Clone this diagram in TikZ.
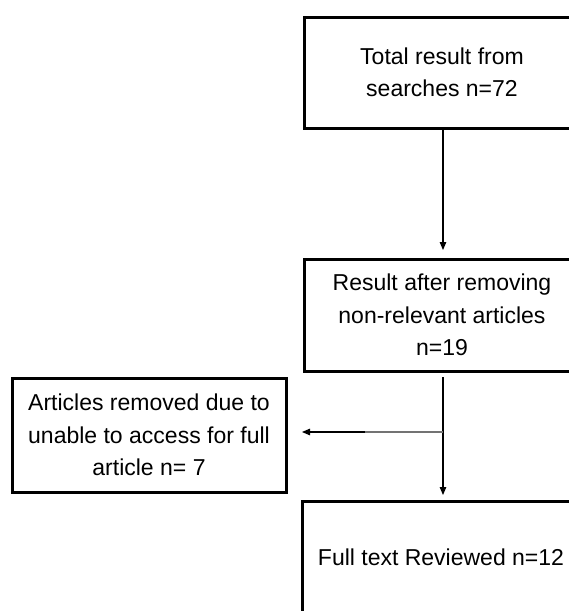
\documentclass[tikz,border=0pt]{standalone}
\usepackage{fontspec}
\setmainfont{Liberation Sans}
\usetikzlibrary{arrows.meta}
\begin{document}
\begin{tikzpicture}[x=1pt,y=-1pt,
  box/.style={draw, line width=3pt, minimum width=276pt, align=center, inner sep=0pt,
    font=\fontsize{23}{32.5}\selectfont},
  conn/.style={line width=1.1pt},
  tipped/.style={-{Triangle[length=8pt,width=6.5pt]}}]
\useasboundingbox (0,0) rectangle (569,611);
\clip (0,0) rectangle (569,611);
\node[box, minimum height=111pt] (b1) at (442,72.5) {Total result from\\searches n=72};
\node[box, minimum height=112pt] (b2) at (442,315) {Result after removing\\non-relevant articles\\n=19};
\node[box, minimum width=274pt, minimum height=114pt] (b4) at (149,435) {Articles removed due to\\unable to access for full\\article n= 7};
\node[box, minimum width=278pt, minimum height=112pt] (b3) at (441,557) {Full text Reviewed n=12};
\coordinate (t1) at (443,250);
\coordinate (s2) at (443,377);
\coordinate (t2) at (443,495);
\coordinate (j) at (443,432);
\coordinate (m) at (365,432);
\coordinate (t3) at (302,432);
\draw[conn,tipped] (b1.south -| t1) -- (t1);
\draw[conn,tipped] (s2) -- (t2);
\draw[conn,color=black!55] (j) -- (m);
\draw[conn,tipped] (m) -- (t3);
\end{tikzpicture}
\end{document}
